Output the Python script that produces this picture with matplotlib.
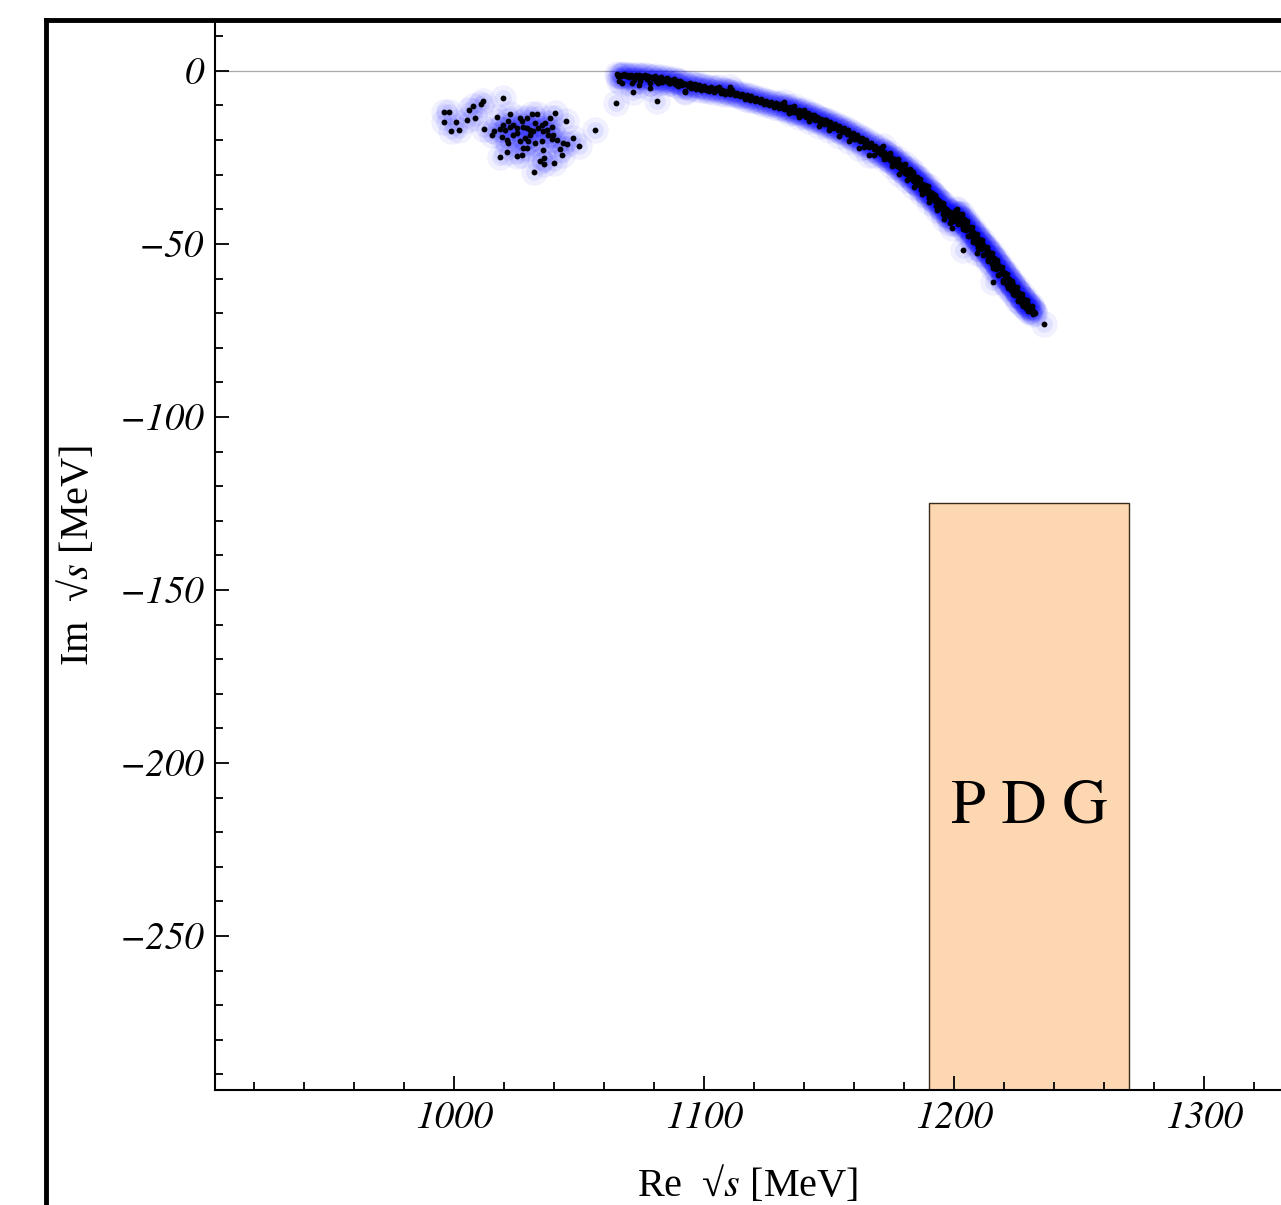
import matplotlib
matplotlib.use("Agg")
import matplotlib.pyplot as plt
from matplotlib.lines import Line2D
from matplotlib.patches import Rectangle
from matplotlib.ticker import MultipleLocator

plt.rcParams["font.family"] = "STIXGeneral"
plt.rcParams["mathtext.fontset"] = "stix"

# pole positions (Re sqrt(s), Im sqrt(s)) in MeV
# small cluster around 1000-1055 MeV
cluster_points = [
    (996.0, -11.9), (998.1, -11.8), (996.0, -14.9), (1000.8, -14.9), (998.7, -17.3),
    (1002.1, -17.2), (1005.3, -14.3), (1006.1, -11.3), (1007.7, -10.1), (1010.8, -9.5),
    (1011.5, -8.6), (1008.4, -13.5), (1012.1, -16.8), (1019.5, -7.9), (1017.1, -13.2),
    (1022.4, -12.5), (1021.7, -14.5), (1019.7, -15.6), (1020.4, -17.1), (1018.4, -16.9),
    (1015.1, -18.5), (1016.0, -17.5), (1019.1, -19.0), (1021.1, -19.9), (1023.5, -18.5),
    (1025.1, -18.0), (1026.4, -13.7), (1027.1, -14.6), (1027.7, -16.1), (1029.1, -13.7),
    (1031.1, -12.5), (1033.1, -12.4), (1032.4, -15.1), (1033.7, -16.6), (1035.1, -15.6),
    (1036.4, -15.1), (1037.1, -17.1), (1038.4, -13.7), (1039.1, -16.1), (1040.4, -12.2),
    (1044.8, -14.4), (1039.7, -18.5), (1037.7, -18.5), (1035.7, -17.5), (1031.7, -17.5),
    (1030.4, -18.5), (1028.4, -19.5), (1026.4, -20.4), (1021.7, -20.9), (1021.3, -23.3),
    (1018.4, -25.0), (1025.1, -24.5), (1027.1, -24.3), (1027.7, -22.4), (1029.1, -22.4),
    (1032.4, -20.9), (1035.1, -20.4), (1035.5, -23.0), (1036.0, -25.2), (1034.4, -26.0),
    (1036.0, -27.0), (1040.0, -26.5), (1043.1, -24.4), (1042.4, -22.6), (1043.7, -20.7),
    (1045.1, -21.1), (1047.5, -19.5), (1050.0, -21.7), (1032.1, -29.3), (1056.4, -17.1),
    (1041.1, -19.9), (1039.1, -19.7), (1029.7, -20.4), (1030.4, -17.1), (1023.7, -15.6),
    (1025.1, -16.6), (1029.1, -16.6), (1022.4, -16.1),
]

# long arc from 1065 to 1236 MeV
arc_points = [
    # top flat part
    (1065.0, -1.0), (1065.6, -1.4), (1066.2, -1.1), (1066.9, -1.6), (1067.5, -1.2),
    (1068.1, -0.9), (1068.8, -1.5), (1069.4, -1.2), (1070.0, -1.7), (1070.7, -1.1),
    (1071.3, -1.4), (1071.9, -2.6), (1072.6, -1.3), (1073.2, -1.8), (1073.8, -1.2),
    (1074.5, -3.0), (1075.1, -1.5), (1075.7, -1.9), (1076.4, -1.3), (1077.0, -2.4),
    (1077.6, -1.6), (1078.3, -3.4), (1078.9, -1.8), (1079.5, -2.2), (1080.2, -1.6),
    (1080.8, -2.9), (1081.4, -2.0), (1082.1, -2.5), (1082.7, -1.9), (1083.3, -3.1),
    (1084.0, -2.3), (1084.6, -2.8), (1085.2, -2.1), (1085.9, -3.6), (1086.5, -2.6),
    (1087.1, -3.0), (1087.8, -2.4), (1088.4, -3.9), (1089.0, -2.9), (1089.7, -3.3),
    (1064.8, -9.3), (1067.0, -3.6), (1071.0, -3.6), (1071.7, -6.0), (1074.0, -4.0),
    (1078.4, -5.0), (1081.3, -8.6), (1081.7, -3.6), (1086.4, -3.6), (1089.7, -4.5),
    (1092.4, -6.0), (1066.0, -2.8),
    # 1090 - 1130
    (1090.3, -3.0), (1091.0, -4.2), (1091.6, -3.5), (1092.3, -5.8), (1092.9, -3.8),
    (1093.6, -4.5), (1094.2, -3.4), (1094.9, -4.9), (1095.5, -4.1), (1096.2, -3.7),
    (1096.8, -5.2), (1097.5, -4.4), (1098.1, -4.0), (1098.8, -5.5), (1099.4, -4.6),
    (1100.1, -4.3), (1100.7, -5.6), (1101.4, -4.9), (1102.0, -5.9), (1102.7, -4.7),
    (1103.3, -5.3), (1104.0, -6.1), (1104.6, -5.0), (1105.3, -5.6), (1105.9, -4.8),
    (1106.6, -6.3), (1107.2, -5.5), (1107.9, -5.9), (1108.5, -6.6), (1109.2, -5.7),
    (1109.8, -6.2), (1110.5, -6.8), (1111.1, -5.6), (1111.8, -6.5), (1112.4, -7.1),
    (1113.1, -6.3), (1113.7, -6.9), (1114.4, -7.4), (1115.0, -6.6), (1115.7, -7.2),
    (1116.3, -8.0), (1117.0, -7.0), (1117.6, -7.6), (1118.3, -8.3), (1118.9, -7.4),
    (1119.6, -8.0), (1120.2, -8.6), (1120.9, -7.7), (1121.5, -8.4), (1122.2, -9.0),
    (1122.8, -8.1), (1123.5, -8.8), (1124.1, -9.5), (1124.8, -8.6), (1125.4, -9.2),
    (1126.1, -9.9), (1126.7, -8.9), (1127.4, -9.6), (1128.0, -10.3), (1128.7, -9.4),
    (1129.3, -10.0), (1110.4, -4.6),
    # 1130 - 1170
    (1130.0, -10.6), (1130.6, -9.7), (1131.2, -10.4), (1131.8, -11.0), (1132.4, -10.1),
    (1133.0, -10.8), (1133.6, -11.4), (1134.2, -10.5), (1134.8, -11.2), (1135.4, -11.8),
    (1136.0, -10.9), (1136.6, -11.6), (1137.2, -12.3), (1137.8, -11.3), (1138.4, -12.0),
    (1139.0, -12.7), (1139.6, -11.8), (1140.2, -12.5), (1140.8, -13.2), (1141.4, -12.2),
    (1142.0, -13.0), (1142.6, -13.7), (1143.2, -12.8), (1143.8, -13.5), (1144.4, -14.2),
    (1145.0, -13.2), (1145.6, -14.0), (1146.2, -14.8), (1146.8, -13.8), (1147.4, -14.6),
    (1148.0, -15.3), (1148.6, -14.3), (1149.2, -15.1), (1149.8, -15.9), (1150.4, -14.9),
    (1151.0, -15.7), (1151.6, -16.5), (1152.2, -15.4), (1152.8, -16.2), (1153.4, -17.1),
    (1154.0, -16.0), (1154.6, -16.9), (1155.2, -17.7), (1155.8, -16.6), (1156.4, -17.5),
    (1157.0, -18.3), (1157.6, -17.2), (1158.2, -18.1), (1158.8, -19.0), (1159.4, -17.9),
    (1160.0, -18.8), (1160.6, -19.7), (1161.2, -18.6), (1161.8, -19.5), (1162.4, -20.4),
    (1163.0, -19.3), (1163.6, -20.2), (1164.2, -21.1), (1164.8, -20.0), (1165.4, -21.0),
    (1166.0, -21.9), (1166.6, -20.8), (1167.2, -21.8), (1167.8, -22.7), (1168.4, -21.6),
    (1169.0, -22.6), (1169.6, -23.5),
    (1132.0, -9.0), (1136.0, -10.2), (1140.0, -11.4), (1144.0, -12.7), (1148.0, -14.2),
    (1152.0, -15.8), (1156.0, -17.5), (1160.0, -19.6), (1164.0, -21.9), (1168.0, -24.2),
    (1134.0, -12.2), (1138.0, -13.3), (1142.0, -14.6), (1146.0, -15.9), (1150.0, -17.2),
    (1154.0, -18.7), (1158.0, -20.4), (1162.0, -22.3), (1166.0, -24.2),
    # 1170 - 1200
    (1170.2, -22.4), (1170.6, -23.9), (1171.0, -23.2), (1171.4, -24.3), (1171.8, -23.5),
    (1172.2, -24.8), (1172.6, -23.9), (1173.0, -25.1), (1173.4, -24.2), (1173.8, -25.6),
    (1174.2, -24.7), (1174.6, -26.0), (1175.0, -25.2), (1175.4, -26.4), (1175.8, -25.6),
    (1176.2, -27.0), (1176.6, -26.1), (1177.0, -27.4), (1177.4, -26.5), (1177.8, -27.9),
    (1178.2, -27.0), (1178.6, -28.4), (1179.0, -27.5), (1179.4, -28.9), (1179.8, -28.0),
    (1180.2, -29.4), (1180.6, -28.5), (1181.0, -29.9), (1181.4, -29.0), (1181.8, -30.4),
    (1182.2, -29.5), (1182.6, -30.9), (1183.0, -30.0), (1183.4, -31.4), (1183.8, -30.5),
    (1184.2, -32.0), (1184.6, -31.0), (1185.0, -32.5), (1185.4, -31.6), (1185.8, -33.0),
    (1186.2, -32.1), (1186.6, -33.6), (1187.0, -32.7), (1187.4, -34.2), (1187.8, -33.2),
    (1188.2, -34.7), (1188.6, -33.8), (1189.0, -35.3), (1189.4, -34.4), (1189.8, -35.9),
    (1190.2, -35.0), (1190.6, -36.5), (1191.0, -35.6), (1191.4, -37.1), (1191.8, -36.2),
    (1192.2, -37.7), (1192.6, -36.8), (1193.0, -38.3), (1193.4, -37.4), (1193.8, -38.9),
    (1194.2, -38.0), (1194.6, -39.5), (1195.0, -38.6), (1195.4, -40.1), (1195.8, -39.3),
    (1196.2, -40.7), (1196.6, -39.9), (1197.0, -41.4), (1197.4, -40.5), (1197.8, -42.0),
    (1198.2, -41.2), (1198.6, -42.7), (1199.0, -41.8), (1199.4, -43.4), (1199.8, -42.5),
    (1171.5, -21.8), (1174.5, -23.6), (1177.5, -25.6), (1180.5, -27.0), (1183.5, -29.2),
    (1186.5, -31.2), (1189.5, -33.4), (1192.5, -35.8), (1195.5, -38.2), (1198.5, -40.7),
    (1172.0, -25.6), (1175.0, -27.6), (1178.0, -29.8), (1181.0, -31.6), (1184.0, -33.5),
    (1187.0, -35.6), (1190.0, -37.8), (1193.0, -40.2), (1196.0, -42.8), (1199.0, -45.4),
    (1182.4, -28.4), (1185.3, -30.6), (1188.3, -32.9), (1191.2, -35.3), (1194.1, -37.6),
    (1197.1, -40.1), (1183.9, -31.9), (1186.9, -34.3), (1189.8, -36.6), (1192.7, -39.0),
    (1195.6, -41.5), (1198.4, -44.0),
    # 1200 - 1236
    (1200.0, -40.8), (1200.5, -41.0), (1201.0, -41.5), (1201.5, -41.6), (1202.0, -42.3),
    (1202.5, -42.4), (1203.0, -43.0), (1203.5, -43.3), (1204.0, -43.9), (1204.5, -44.0),
    (1205.0, -44.8), (1205.5, -45.0), (1206.0, -45.6), (1206.5, -45.8), (1207.0, -46.5),
    (1207.5, -46.7), (1208.0, -47.4), (1208.5, -47.6), (1209.0, -48.3), (1209.5, -48.5),
    (1210.0, -49.2), (1210.5, -49.4), (1211.0, -50.1), (1211.5, -50.3), (1212.0, -51.0),
    (1212.5, -51.2), (1213.0, -51.9), (1213.5, -52.1), (1214.0, -52.8), (1214.5, -53.0),
    (1215.0, -53.8), (1215.5, -54.0), (1216.0, -54.7), (1216.5, -55.0), (1217.0, -55.7),
    (1217.5, -56.0), (1218.0, -56.7), (1218.5, -57.0), (1219.0, -57.7), (1219.5, -58.0),
    (1220.0, -58.7), (1220.5, -59.0), (1221.0, -59.7), (1221.5, -60.0), (1222.0, -60.7),
    (1222.5, -61.0), (1223.0, -61.7), (1223.5, -62.0), (1224.0, -62.7), (1224.5, -63.0),
    (1225.0, -63.7), (1225.5, -64.0), (1226.0, -64.7), (1226.5, -65.0), (1227.0, -65.6),
    (1227.5, -65.9), (1228.0, -66.5), (1228.5, -66.8), (1229.0, -67.3), (1229.5, -67.6),
    (1230.0, -68.2), (1230.5, -68.5), (1231.0, -68.9), (1231.5, -69.3), (1232.0, -69.7),
    (1232.5, -70.0),
    (1201.0, -39.8), (1203.0, -41.5), (1205.0, -43.3), (1207.0, -45.2), (1209.0, -47.0),
    (1211.0, -48.9), (1213.0, -50.8), (1215.0, -52.6), (1217.0, -54.6), (1219.0, -56.6),
    (1221.0, -58.6), (1223.0, -60.6), (1225.0, -62.6), (1227.0, -64.5), (1229.0, -66.3),
    (1231.0, -68.0),
    (1199.5, -42.6), (1201.5, -44.2), (1203.5, -45.8), (1205.5, -47.6), (1207.5, -49.5),
    (1209.5, -51.3), (1211.5, -53.1), (1213.5, -55.0), (1215.5, -56.9), (1217.5, -58.9),
    (1219.5, -60.9), (1221.5, -62.8), (1223.5, -64.6), (1225.5, -66.4), (1227.5, -68.0),
    (1229.5, -69.3),
    (1200.8, -40.2), (1202.3, -41.4), (1203.8, -42.9), (1205.3, -44.3), (1206.8, -45.8),
    (1208.3, -47.1), (1209.8, -48.5), (1211.3, -49.9), (1212.8, -51.3), (1214.3, -52.6),
    (1215.8, -54.1), (1217.3, -55.5), (1218.8, -57.0), (1220.3, -58.5), (1221.8, -60.0),
    (1223.3, -61.5), (1224.8, -63.0), (1226.3, -64.5), (1227.8, -65.8), (1229.3, -67.0),
    (1230.8, -68.2),
    (1200.2, -41.9), (1201.7, -43.1), (1203.2, -44.5), (1204.7, -45.9), (1206.2, -47.3),
    (1207.7, -48.7), (1209.2, -50.1), (1210.7, -51.5), (1212.2, -52.9), (1213.7, -54.3),
    (1215.2, -55.8), (1216.7, -57.3), (1218.2, -58.8), (1219.7, -60.3), (1221.2, -61.8),
    (1222.7, -63.3), (1224.2, -64.8), (1225.7, -66.2), (1227.2, -67.4), (1228.7, -68.6),
    (1230.2, -69.5), (1231.7, -70.2),
    (1203.7, -51.9), (1209.0, -52.7), (1215.7, -61.1), (1236.0, -73.2),
]

# PDG box
pdg_re = [1190, 1270]
pdg_im = [-300, -125]

x_ticks = [1000, 1100, 1200, 1300]
y_ticks = [-250, -200, -150, -100, -50, 0]
y_ticklabels = ["\u2212250", "\u2212200", "\u2212150", "\u2212100", "\u221250", "0"]

all_points = cluster_points + arc_points
re_vals = [p[0] for p in all_points]
im_vals = [p[1] for p in all_points]

fig = plt.figure(figsize=(12.81, 12.05), dpi=100)
ax = fig.add_axes([215 / 1281, 115 / 1205, 1066 / 1281, 1070 / 1205])
ax.set_xlim(904.4, 1330.8)
ax.set_ylim(-294.5, 14.7)

ax.axhline(0, color="#a8a8a8", lw=0.9, zorder=0)

# glow around each point, then the points
ax.plot(re_vals, im_vals, "o", color="blue", alpha=0.06, ms=19, mew=0, zorder=2)
ax.plot(re_vals, im_vals, "o", color="blue", alpha=0.07, ms=12, mew=0, zorder=2)
ax.plot(re_vals, im_vals, "o", color="black", ms=4.2, mew=0, zorder=3)

ax.add_patch(Rectangle((pdg_re[0], pdg_im[0]), pdg_re[1] - pdg_re[0], pdg_im[1] - pdg_im[0],
                       facecolor="#fdd7b2", edgecolor="#3a2a1a", lw=1.0, zorder=1))
ax.text((pdg_re[0] + pdg_re[1]) / 2, -213, "P D G", ha="center", va="center",
        fontsize=45, zorder=4)

for s in ["top", "right"]:
    ax.spines[s].set_visible(False)
for s in ["left", "bottom"]:
    ax.spines[s].set_linewidth(1.5)

ax.set_xticks(x_ticks, [str(t) for t in x_ticks], fontstyle="italic", fontsize=28)
ax.set_yticks(y_ticks, y_ticklabels, fontstyle="italic", fontsize=28)
ax.xaxis.set_minor_locator(MultipleLocator(20))
ax.yaxis.set_minor_locator(MultipleLocator(10))
ax.tick_params(which="major", direction="in", length=10, width=1.3, pad=8)
ax.tick_params(which="minor", direction="in", length=6, width=1.3)

label_font = ["Liberation Serif", "STIXGeneral"]
ax.set_xlabel("Re  \u221a$s$ [MeV]", fontsize=29, labelpad=20, family=label_font)
ax.set_ylabel("Im  \u221a$s$ [MeV]", fontsize=29, labelpad=16, family=label_font)

# outer frame (left and top edges)
fig.add_artist(Line2D([46 / 1281, 46 / 1281], [0, 1 - 20 / 1205], color="black", lw=3.5,
                      transform=fig.transFigure, solid_capstyle="projecting"))
fig.add_artist(Line2D([46 / 1281, 1], [1 - 20 / 1205, 1 - 20 / 1205], color="black", lw=3.5,
                      transform=fig.transFigure, solid_capstyle="projecting"))

fig.savefig("out.png", dpi=100)
